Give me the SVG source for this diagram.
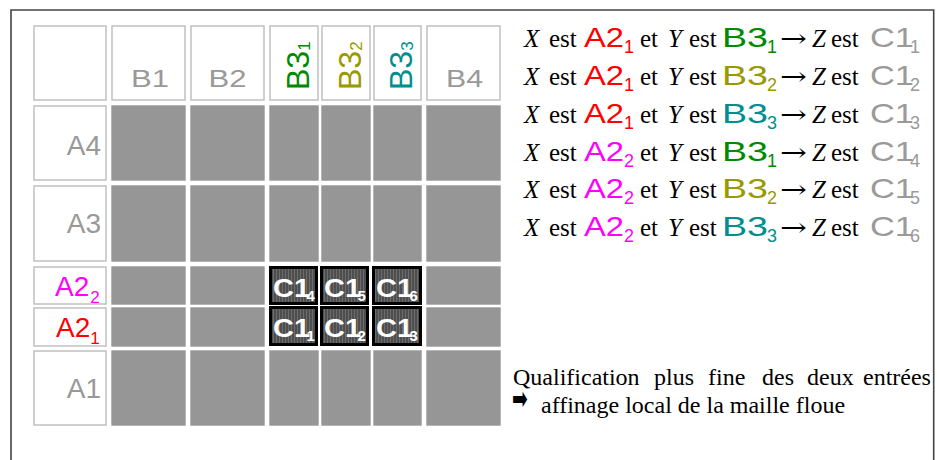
<svg xmlns="http://www.w3.org/2000/svg" width="937" height="460" viewBox="0 0 937 460">
<style>
.cell{fill:#fff;stroke:#c0c0c0;stroke-width:1.5}
.data{fill:#969696}
.hdr{font-family:"Liberation Sans",Arial,sans-serif;font-size:24px;fill:#999}
.row{font-family:"Liberation Sans",Arial,sans-serif;font-size:28px;fill:#999}
.rot{font-family:"Liberation Sans",Arial,sans-serif;font-size:32px}
.c1box{fill:url(#stripes);stroke:#000;stroke-width:3}
.c1t{font-family:"Liberation Sans",Arial,sans-serif;font-weight:bold;font-size:26px;fill:#fff}
.c1s{font-family:"Liberation Sans",Arial,sans-serif;font-weight:bold;font-size:15px;fill:#fff}
.ser{font-family:"Liberation Serif","Times New Roman",serif;font-size:25px;fill:#000}
.arr{font-family:"DejaVu Serif",serif;font-size:25px;fill:#000}
.it{font-style:italic}
.sa{font-family:"Liberation Sans",Arial,sans-serif;font-size:28px}
.sb{font-family:"Liberation Sans",Arial,sans-serif;font-size:18px}
.note{font-family:"Liberation Serif","Times New Roman",serif;font-size:24px;fill:#000}
.red{fill:#ff0000}.mag{fill:#ff00ff}.grn{fill:#008a00}.olv{fill:#999900}.tea{fill:#008e8e}.gry{fill:#9a9a9a}
</style>
<defs>
<pattern id="stripes" width="3" height="4" patternUnits="userSpaceOnUse">
<rect width="3" height="4" fill="#4e4e4e"/>
<rect width="1" height="4" fill="#6c6c6c"/>
</pattern>
</defs>
<rect width="937" height="460" fill="#fff"/>
<path id="frame" d="M11,470 V10 H933.7 V470" fill="none" stroke="#444" stroke-width="1.6"/>

<g id="grid">
<g id="header-row">
<rect class="cell" x="34" y="26" width="72" height="74"/>
<rect class="cell" x="112" y="26" width="73" height="74"/>
<rect class="cell" x="191" y="26" width="73" height="74"/>
<rect class="cell" x="270" y="26" width="48" height="74"/>
<rect class="cell" x="322" y="26" width="48" height="74"/>
<rect class="cell" x="374" y="26" width="47" height="74"/>
<rect class="cell" x="427" y="26" width="73" height="74"/>
</g>
<g id="label-col">
<rect class="cell" x="34" y="106" width="72" height="74"/>
<rect class="cell" x="34" y="186" width="72" height="75"/>
<rect class="cell" x="34" y="267" width="72" height="37"/>
<rect class="cell" x="34" y="308" width="72" height="38"/>
<rect class="cell" x="34" y="351" width="72" height="74"/>
</g>
<g id="data-cells">
<rect class="data" x="111.3" y="105.3" width="74.4" height="75.4"/>
<rect class="data" x="190.3" y="105.3" width="74.4" height="75.4"/>
<rect class="data" x="269.3" y="105.3" width="49.4" height="75.4"/>
<rect class="data" x="321.3" y="105.3" width="49.4" height="75.4"/>
<rect class="data" x="373.3" y="105.3" width="48.4" height="75.4"/>
<rect class="data" x="426.3" y="105.3" width="74.4" height="75.4"/>

<rect class="data" x="111.3" y="185.3" width="74.4" height="76.4"/>
<rect class="data" x="190.3" y="185.3" width="74.4" height="76.4"/>
<rect class="data" x="269.3" y="185.3" width="49.4" height="76.4"/>
<rect class="data" x="321.3" y="185.3" width="49.4" height="76.4"/>
<rect class="data" x="373.3" y="185.3" width="48.4" height="76.4"/>
<rect class="data" x="426.3" y="185.3" width="74.4" height="76.4"/>

<rect class="data" x="111.3" y="266.3" width="74.4" height="38.4"/>
<rect class="data" x="190.3" y="266.3" width="74.4" height="38.4"/>
<rect class="data" x="426.3" y="266.3" width="74.4" height="38.4"/>

<rect class="data" x="111.3" y="307.3" width="74.4" height="39.4"/>
<rect class="data" x="190.3" y="307.3" width="74.4" height="39.4"/>
<rect class="data" x="426.3" y="307.3" width="74.4" height="39.4"/>

<rect class="data" x="111.3" y="350.3" width="74.4" height="75.4"/>
<rect class="data" x="190.3" y="350.3" width="74.4" height="75.4"/>
<rect class="data" x="269.3" y="350.3" width="49.4" height="75.4"/>
<rect class="data" x="321.3" y="350.3" width="49.4" height="75.4"/>
<rect class="data" x="373.3" y="350.3" width="48.4" height="75.4"/>
<rect class="data" x="426.3" y="350.3" width="74.4" height="75.4"/>
</g>
</g>

<g id="col-labels">
<text class="hdr" x="131" y="87" textLength="38" lengthAdjust="spacingAndGlyphs">B1</text>
<text class="hdr" x="208.5" y="87" textLength="38" lengthAdjust="spacingAndGlyphs">B2</text>
<text class="hdr" x="446" y="87" textLength="37" lengthAdjust="spacingAndGlyphs">B4</text>
<text class="rot grn" transform="translate(309,90) rotate(-90)">B3<tspan font-size="17" dy="1">1</tspan></text>
<text class="rot olv" transform="translate(361,90) rotate(-90)">B3<tspan font-size="17" dy="1">2</tspan></text>
<text class="rot tea" transform="translate(412,90) rotate(-90)">B3<tspan font-size="17" dy="1">3</tspan></text>
</g>

<g id="row-labels">
<text class="row" x="101" y="155" text-anchor="end">A4</text>
<text class="row" x="101" y="233" text-anchor="end">A3</text>
<text class="row mag" x="55" y="296" font-size="29">A2<tspan font-size="17" dx="1" dy="7">2</tspan></text>
<text class="row red" x="56" y="337" font-size="29">A2<tspan font-size="17" dx="0" dy="7">1</tspan></text>
<text class="row" x="101" y="398" text-anchor="end">A1</text>
</g>

<g id="c1-cells">
<g id="c1-4"><rect class="c1box" x="270.5" y="267.5" width="46" height="36"/><text class="c1t" x="273" y="297" textLength="37" lengthAdjust="spacingAndGlyphs">C1</text><text class="c1s" x="306.5" y="301">4</text></g>
<g id="c1-5"><rect class="c1box" x="321.5" y="267.5" width="46" height="36"/><text class="c1t" x="324" y="297" textLength="37" lengthAdjust="spacingAndGlyphs">C1</text><text class="c1s" x="357.5" y="301">5</text></g>
<g id="c1-6"><rect class="c1box" x="373.5" y="267.5" width="47" height="36"/><text class="c1t" x="376" y="297" textLength="37" lengthAdjust="spacingAndGlyphs">C1</text><text class="c1s" x="409.5" y="301">6</text></g>
<g id="c1-1"><rect class="c1box" x="270.5" y="307.5" width="46" height="37"/><text class="c1t" x="273" y="337" textLength="37" lengthAdjust="spacingAndGlyphs">C1</text><text class="c1s" x="306.5" y="341">1</text></g>
<g id="c1-2"><rect class="c1box" x="321.5" y="307.5" width="46" height="37"/><text class="c1t" x="324" y="337" textLength="37" lengthAdjust="spacingAndGlyphs">C1</text><text class="c1s" x="357.5" y="341">2</text></g>
<g id="c1-3"><rect class="c1box" x="373.5" y="307.5" width="47" height="37"/><text class="c1t" x="376" y="337" textLength="37" lengthAdjust="spacingAndGlyphs">C1</text><text class="c1s" x="409.5" y="341">3</text></g>
</g>

<g id="rules">
<g id="rule1" transform="translate(0,47)">
<text class="ser"><tspan class="it" x="524" y="0">X</tspan><tspan x="549" y="0">est</tspan><tspan x="640" y="0">et</tspan><tspan class="it" x="668" y="0">Y</tspan><tspan x="689" y="0">est</tspan><tspan class="it" x="812" y="0">Z</tspan><tspan x="831" y="0">est</tspan></text>
<text class="arr" x="780" y="0" textLength="27" lengthAdjust="spacingAndGlyphs">→</text>
<text class="sa red" x="584" y="0" textLength="40" lengthAdjust="spacingAndGlyphs">A2</text><text class="sb red" x="624" y="6">1</text>
<text class="sa grn" x="722" y="0" textLength="46" lengthAdjust="spacingAndGlyphs">B3</text><text class="sb grn" x="767" y="6">1</text>
<text class="sa gry" x="870" y="0" textLength="44" lengthAdjust="spacingAndGlyphs">C1</text><text class="sb gry" x="910" y="6">1</text>
</g>
<g id="rule2" transform="translate(0,85)">
<text class="ser"><tspan class="it" x="524" y="0">X</tspan><tspan x="549" y="0">est</tspan><tspan x="640" y="0">et</tspan><tspan class="it" x="668" y="0">Y</tspan><tspan x="689" y="0">est</tspan><tspan class="it" x="812" y="0">Z</tspan><tspan x="831" y="0">est</tspan></text>
<text class="arr" x="780" y="0" textLength="27" lengthAdjust="spacingAndGlyphs">→</text>
<text class="sa red" x="584" y="0" textLength="40" lengthAdjust="spacingAndGlyphs">A2</text><text class="sb red" x="624" y="6">1</text>
<text class="sa olv" x="722" y="0" textLength="46" lengthAdjust="spacingAndGlyphs">B3</text><text class="sb olv" x="767" y="6">2</text>
<text class="sa gry" x="870" y="0" textLength="44" lengthAdjust="spacingAndGlyphs">C1</text><text class="sb gry" x="910" y="6">2</text>
</g>
<g id="rule3" transform="translate(0,123)">
<text class="ser"><tspan class="it" x="524" y="0">X</tspan><tspan x="549" y="0">est</tspan><tspan x="640" y="0">et</tspan><tspan class="it" x="668" y="0">Y</tspan><tspan x="689" y="0">est</tspan><tspan class="it" x="812" y="0">Z</tspan><tspan x="831" y="0">est</tspan></text>
<text class="arr" x="780" y="0" textLength="27" lengthAdjust="spacingAndGlyphs">→</text>
<text class="sa red" x="584" y="0" textLength="40" lengthAdjust="spacingAndGlyphs">A2</text><text class="sb red" x="624" y="6">1</text>
<text class="sa tea" x="722" y="0" textLength="46" lengthAdjust="spacingAndGlyphs">B3</text><text class="sb tea" x="767" y="6">3</text>
<text class="sa gry" x="870" y="0" textLength="44" lengthAdjust="spacingAndGlyphs">C1</text><text class="sb gry" x="910" y="6">3</text>
</g>
<g id="rule4" transform="translate(0,160.5)">
<text class="ser"><tspan class="it" x="524" y="0">X</tspan><tspan x="549" y="0">est</tspan><tspan x="640" y="0">et</tspan><tspan class="it" x="668" y="0">Y</tspan><tspan x="689" y="0">est</tspan><tspan class="it" x="812" y="0">Z</tspan><tspan x="831" y="0">est</tspan></text>
<text class="arr" x="780" y="0" textLength="27" lengthAdjust="spacingAndGlyphs">→</text>
<text class="sa mag" x="584" y="0" textLength="40" lengthAdjust="spacingAndGlyphs">A2</text><text class="sb mag" x="624" y="6">2</text>
<text class="sa grn" x="722" y="0" textLength="46" lengthAdjust="spacingAndGlyphs">B3</text><text class="sb grn" x="767" y="6">1</text>
<text class="sa gry" x="870" y="0" textLength="44" lengthAdjust="spacingAndGlyphs">C1</text><text class="sb gry" x="910" y="6">4</text>
</g>
<g id="rule5" transform="translate(0,198)">
<text class="ser"><tspan class="it" x="524" y="0">X</tspan><tspan x="549" y="0">est</tspan><tspan x="640" y="0">et</tspan><tspan class="it" x="668" y="0">Y</tspan><tspan x="689" y="0">est</tspan><tspan class="it" x="812" y="0">Z</tspan><tspan x="831" y="0">est</tspan></text>
<text class="arr" x="780" y="0" textLength="27" lengthAdjust="spacingAndGlyphs">→</text>
<text class="sa mag" x="584" y="0" textLength="40" lengthAdjust="spacingAndGlyphs">A2</text><text class="sb mag" x="624" y="6">2</text>
<text class="sa olv" x="722" y="0" textLength="46" lengthAdjust="spacingAndGlyphs">B3</text><text class="sb olv" x="767" y="6">2</text>
<text class="sa gry" x="870" y="0" textLength="44" lengthAdjust="spacingAndGlyphs">C1</text><text class="sb gry" x="910" y="6">5</text>
</g>
<g id="rule6" transform="translate(0,236)">
<text class="ser"><tspan class="it" x="524" y="0">X</tspan><tspan x="549" y="0">est</tspan><tspan x="640" y="0">et</tspan><tspan class="it" x="668" y="0">Y</tspan><tspan x="689" y="0">est</tspan><tspan class="it" x="812" y="0">Z</tspan><tspan x="831" y="0">est</tspan></text>
<text class="arr" x="780" y="0" textLength="27" lengthAdjust="spacingAndGlyphs">→</text>
<text class="sa mag" x="584" y="0" textLength="40" lengthAdjust="spacingAndGlyphs">A2</text><text class="sb mag" x="624" y="6">2</text>
<text class="sa tea" x="722" y="0" textLength="46" lengthAdjust="spacingAndGlyphs">B3</text><text class="sb tea" x="767" y="6">3</text>
<text class="sa gry" x="870" y="0" textLength="44" lengthAdjust="spacingAndGlyphs">C1</text><text class="sb gry" x="910" y="6">6</text>
</g>
</g>

<g id="note">
<text class="note" y="385"><tspan x="513">Qualification</tspan><tspan x="654">plus</tspan><tspan x="708">fine</tspan><tspan x="762">des</tspan><tspan x="807">deux</tspan><tspan x="863">entrées</tspan></text>
<text transform="translate(512,409) scale(0.85,1.4)" font-family="DejaVu Sans,sans-serif" font-size="22">➡</text>
<text class="note" x="541" y="413">affinage local de la maille floue</text>
</g>
</svg>
